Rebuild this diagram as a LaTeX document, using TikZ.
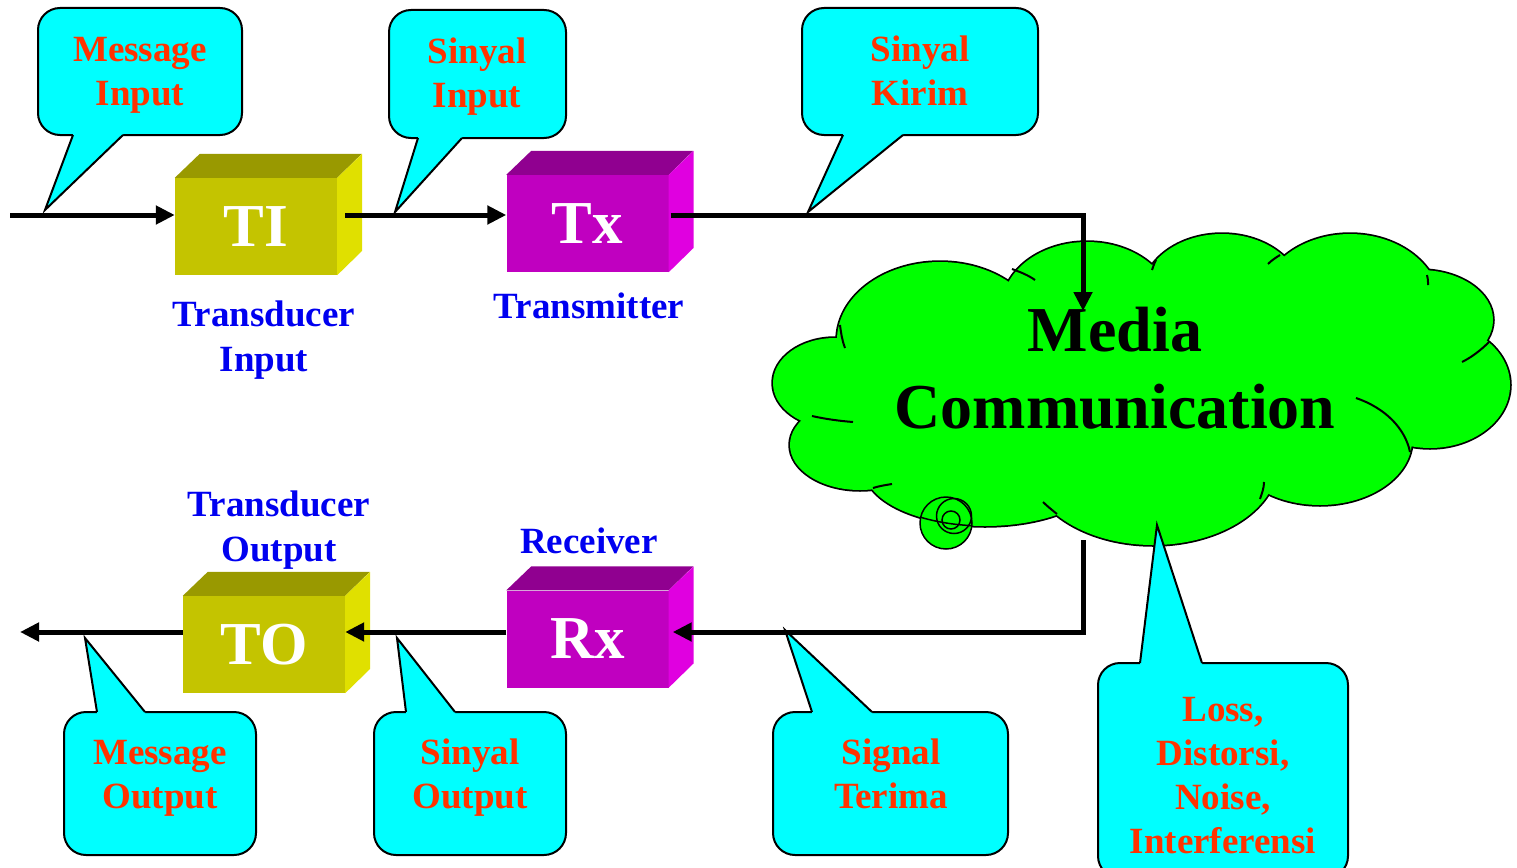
\documentclass[tikz,border=0pt]{standalone}
\usepackage{fontspec}
\setmainfont{Liberation Serif}
\usetikzlibrary{arrows.meta,calc}

\definecolor{callcyan}{HTML}{00FFFF}
\definecolor{callred}{HTML}{FF3300}
\definecolor{labelblue}{HTML}{0000F0}
\definecolor{cloudgreen}{HTML}{00FF00}
\definecolor{oliveFront}{HTML}{C4C400}
\definecolor{oliveTop}{HTML}{999900}
\definecolor{oliveSide}{HTML}{E0E000}
\definecolor{magFront}{HTML}{C000C0}
\definecolor{magTop}{HTML}{900090}
\definecolor{magSide}{HTML}{E000E0}

% speech bubble whose tail leaves the bottom edge
% #1,#2 top-left  #3,#4 bottom-right  #5 tip  #6,#7 tail base x
\newcommand\bubbledown[7]{%
  \path[bubblebox] (#1,#2) rectangle (#3,#4);
  \fill[callcyan] #5 -- (#6,#4) -- (#6,#4-6) -- (#7,#4-6) -- (#7,#4) -- cycle;
  \draw[bubbleedge] (#6,#4) -- #5 -- (#7,#4);}
% speech bubble whose tail leaves the top edge
\newcommand\bubbleup[7]{%
  \path[bubblebox] (#1,#2) rectangle (#3,#4);
  \fill[callcyan] #5 -- (#6,#2) -- (#6,#2+6) -- (#7,#2+6) -- (#7,#2) -- cycle;
  \draw[bubbleedge] (#6,#2) -- #5 -- (#7,#2);}
% shaded block: name, centre x, centre y, front, top, side colours, label
\newcommand\drawblock[7]{%
  \node[blockfront, fill=#4] (#1) at (#2,#3) {#7};
  \fill[#5] (#1.north west) -- ++(25,-24) -- ++(162,0) -- (#1.north east) -- cycle;
  \fill[#6] (#1.north east) -- ++(25,-24) -- ++(0,97) -- (#1.south east) -- cycle;}

\begin{document}
\begin{tikzpicture}[x=1pt,y=-1pt,
  wire/.style={line width=5pt},
  conn/.style={line width=5pt,-{Triangle[length=19pt,width=18pt]}},
  bubblebox/.style={fill=callcyan,draw=black,line width=2pt,rounded corners=22pt},
  bubbleedge/.style={draw=black,line width=2pt},
  calltext/.style={text=callred,align=center,inner sep=0pt,
    font=\bfseries\fontsize{37}{44}\selectfont},
  labeltext/.style={text=labelblue,align=center,inner sep=0pt,
    font=\bfseries\fontsize{37}{45}\selectfont},
  blockfront/.style={minimum width=162pt,minimum height=97pt,inner sep=0pt,
    text=white,font=\bfseries\fontsize{61}{61}\selectfont},
  cloudtext/.style={inner sep=0pt,font=\bfseries\fontsize{64}{70}\selectfont},
  fold/.style={line width=2pt}]
\useasboundingbox (0,0) rectangle (1517,867);

% ---------- the cloud (union of puffs) ----------
\def\puffs{835/383/62/45, 860/445/70/45, 985/470/120/56, 1153/462/125/83,
  1320/440/92/65, 1430/385/80/63, 1420/320/73/50, 1350/305/90/71,
  1222/295/80/61, 1087/307/85/65, 940/340/103/78}
\foreach \cx/\cy/\rx/\ry in \puffs
  \filldraw[fill=cloudgreen,draw=black,line width=3.5pt]
    (\cx,\cy) ellipse [x radius=\rx, y radius=\ry];
\foreach \cx/\cy/\rx/\ry in \puffs
  \fill[cloudgreen] (\cx,\cy) ellipse [x radius=\rx, y radius=\ry];
\fill[cloudgreen] (1130,390) ellipse [x radius=290, y radius=110];
% inner fold lines where the puffs meet
\draw[fold] (840,325) .. controls (841,333) and (842,340) .. (845,348);
\draw[fold] (812,416) .. controls (825,419) and (840,421) .. (853,422);
\draw[fold] (873,488) .. controls (879,486) and (886,485) .. (892,484);
\draw[fold] (1043,502) .. controls (1047,506) and (1052,510) .. (1057,514);
\draw[fold] (1264,482) .. controls (1264,488) and (1262,493) .. (1260,499);
\draw[fold] (1356,398) .. controls (1385,408) and (1405,428) .. (1410,452);
\draw[fold] (1489,342) .. controls (1481,350) and (1472,357) .. (1462,362);
\draw[fold] (1427,275) .. controls (1428,278) and (1428,281) .. (1428,285);
\draw[fold] (1268,264) .. controls (1271,261) and (1275,258) .. (1280,255);
\draw[fold] (1152,270) .. controls (1153,267) and (1154,264) .. (1156,260);
\draw[fold] (1012,269) .. controls (1020,272) and (1028,275) .. (1035,280);
% small thought bubbles
\filldraw[fill=cloudgreen,draw=black,line width=1.5pt] (946,523) circle [radius=26];
\draw[line width=1.5pt] (954,516) circle [radius=17.5];
\draw[line width=1.5pt] (951,520) circle [radius=9];
\begin{scope}
  \clip (946,523) circle [radius=26];
  \draw[line width=1.5pt] (985,470) ellipse [x radius=120, y radius=56];
\end{scope}

\node[cloudtext] (media) at (1115,330) {Media};
\node[cloudtext] (comm) at (1115,407) {Communication};

% ---------- blocks ----------
\drawblock{TI}{256}{226.5}{oliveFront}{oliveTop}{oliveSide}{TI}
\drawblock{Tx}{587.5}{223.5}{magFront}{magTop}{magSide}{Tx}
\drawblock{Rx}{587.5}{639}{magFront}{magTop}{magSide}{Rx}
\drawblock{TO}{264}{644.5}{oliveFront}{oliveTop}{oliveSide}{TO}

\node[labeltext] (lblTI) at (264,340) {Transducer\\Input};
\node[labeltext] (lblTx) at (589,306) {Transmitter};
\node[labeltext] (lblTO) at (279,530) {Transducer\\Output};
\node[labeltext] (lblRx) at (589,541) {Receiver};

% ---------- speech bubbles ----------
\bubbledown{38}{8}{242}{135}{(45,210)}{73}{123}
\node[calltext] (cMI) at (140,75) {Message\\Input};
\bubbledown{389}{10}{566}{138}{(395,212)}{418}{462}
\node[calltext] (cSI) at (477,77) {Sinyal\\Input};
\bubbledown{802}{8}{1038}{135}{(808,212)}{843}{903}
\node[calltext] (cSK) at (920,71) {Sinyal\\Kirim};
\bubbleup{64}{712}{256}{855}{(85,638)}{97}{145}
\node[calltext] (cMO) at (160,778) {Message\\Output};
\bubbleup{374}{712}{566}{855}{(397,638)}{406}{455}
\node[calltext] (cSO) at (470,778) {Sinyal\\Output};
\bubbleup{773}{712}{1008}{855}{(785,630)}{812}{872}
\node[calltext] (cST) at (891,774) {Signal\\Terima};
\bubbleup{1098}{663}{1348}{878}{(1157,525)}{1140}{1202}
\node[calltext] (cLoss) at (1223,776) {Loss,\\Distorsi,\\Noise,\\Interferensi};

% ---------- signal path ----------
\coordinate (upper) at (0,215);
\coordinate (lower) at (0,632);
\coordinate (msgin) at (10,215);
\coordinate (corner1) at (1083,215);
\coordinate (cloudin) at (1083,311);
\coordinate (cloudout) at (1083,540);
\coordinate (corner2) at (1083,632);
\coordinate (msgout) at (20,632);

\draw[conn] (msgin) -- (TI.west |- upper);
\draw[conn] ([xshift=8pt]TI.east |- upper) -- (Tx.west |- upper);
\draw[conn] ([xshift=2pt]Tx.east |- upper) -- (corner1) -- (cloudin);
\draw[conn] (cloudout) -- (corner2) -- ([xshift=4pt]Rx.east |- lower);
\draw[conn] (Rx.west |- lower) -- (TO.east |- lower);
\draw[conn] (TO.west |- lower) -- (msgout);
\end{tikzpicture}
\end{document}
